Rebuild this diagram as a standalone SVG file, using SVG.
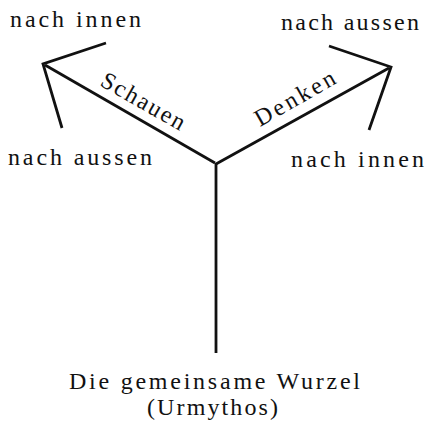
<svg xmlns="http://www.w3.org/2000/svg" width="426" height="425" viewBox="0 0 426 425">
<style>
text{font-family:"Liberation Serif","Times New Roman",serif;font-size:24px;fill:#111;}
.ln{stroke:#111;stroke-width:2.8;fill:none;stroke-linecap:butt;stroke-linejoin:miter;}
</style>
<rect width="426" height="425" fill="#fff"/>
<g id="connectors">
<polyline class="ln" points="106,43 43,64 62,128"/>
<line class="ln" x1="45" y1="65" x2="215" y2="163"/>
<polyline class="ln" points="329,46 391,67 369,130"/>
<line class="ln" x1="389" y1="68" x2="216" y2="164"/>
<line class="ln" x1="216" y1="163" x2="216" y2="353"/>
</g>
<g id="label-innen-left"><text x="10" y="27" textLength="131" lengthAdjust="spacing">nach innen</text></g>
<g id="label-aussen-left"><text x="8" y="165" textLength="144" lengthAdjust="spacing">nach aussen</text></g>
<g id="label-aussen-right"><text x="281" y="30" textLength="138" lengthAdjust="spacing">nach aussen</text></g>
<g id="label-innen-right"><text x="291" y="167" textLength="133" lengthAdjust="spacing">nach innen</text></g>
<g id="label-schauen"><text transform="translate(99,85) rotate(29.6)" textLength="93" lengthAdjust="spacing">Schauen</text></g>
<g id="label-denken"><text transform="translate(260,127) rotate(-29.7)" textLength="89" lengthAdjust="spacing">Denken</text></g>
<g id="root"><text x="69" y="389" textLength="291" lengthAdjust="spacing">Die gemeinsame Wurzel</text>
<text x="147" y="415" textLength="131" lengthAdjust="spacing">(Urmythos)</text></g>
</svg>
